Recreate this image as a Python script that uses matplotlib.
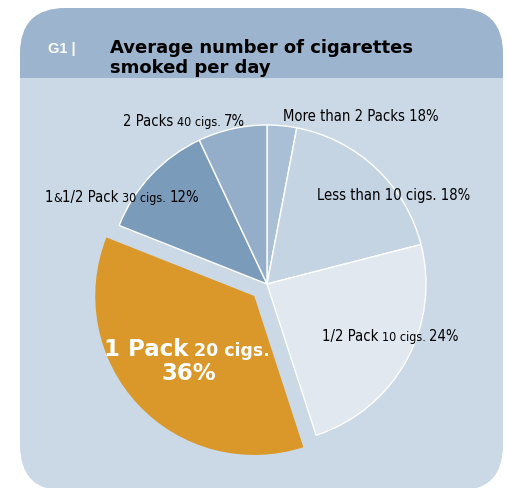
import matplotlib
matplotlib.use("Agg")
import matplotlib.pyplot as plt
from matplotlib.patches import FancyBboxPatch, Rectangle
from matplotlib import font_manager

# slices, clockwise from 12 o'clock
categories = ["More than 2 Packs", "Less than 10 cigs.", "1/2 Pack", "1 Pack", "1&1/2 Pack", "2 Packs"]
shares = [3, 18, 24, 36, 12, 7]
slice_colors = ["#a9bfd5", "#c5d4e3", "#e1e8f0", "#d99829", "#7a9bba", "#94aec9"]
label_text = [
    [("More than 2 Packs 18%", "L")],
    [("Less than 10 cigs. 18%", "L")],
    [("1/2 Pack", "L"), ("10 cigs.", "S"), ("24%", "L")],
    None,
    [("1", "L"), ("&", "S"), ("1/2 Pack", "L"), ("30 cigs.", "S"), ("12%", "L")],
    [("2 Packs", "L"), ("40 cigs.", "S"), ("7%", "L")],
]

W, H = 508, 489
HEADER = "#9cb4cd"
BODY = "#cbd9e6"
SIZES = {"L": 10.6, "S": 9.0}

# narrow face for the slice labels
NARROW = font_manager.FontProperties(family="DejaVu Sans", stretch="condensed")
narrow_file = font_manager.findfont(NARROW)

fig = plt.figure(figsize=(W / 100, H / 100), dpi=100)
ax = fig.add_axes([0, 0, 1, 1])

# rounded panel, darker band at the top
panel = FancyBboxPatch((20, 9), 483, 483, boxstyle="round,pad=0,rounding_size=46",
                       fc=BODY, ec="none", zorder=0)
ax.add_patch(panel)
band = FancyBboxPatch((20, 9), 483, 483, boxstyle="round,pad=0,rounding_size=46",
                      fc=HEADER, ec="none", zorder=0.5)
ax.add_patch(band)
band.set_clip_path(Rectangle((0, 0), W, 79, transform=ax.transData))

cx, cy, r = 267, 285, 159
explode = [0.11 * r if c == "1 Pack" else 0 for c in categories]
wedges, _ = ax.pie(shares, colors=slice_colors, startangle=-90, counterclock=True,
                   center=(cx, cy), radius=r, explode=explode,
                   wedgeprops=dict(edgecolor="white", linewidth=1.0))
for w, c in zip(wedges, categories):
    w.set_zorder(2)
    if c == "1 Pack":
        w.set_edgecolor("none")

ax.set_xlim(0, W)
ax.set_ylim(H, 0)
ax.set_aspect("equal")
ax.axis("off")


def chain(parts, x, y, color="black", fname=narrow_file, family=None, weight="normal",
          sizes=SIZES, gap=2.5):
    prev = None
    for s, k in parts:
        if family:
            fp = font_manager.FontProperties(family=family, weight=weight, size=sizes[k])
        else:
            fp = font_manager.FontProperties(fname=fname, size=sizes[k])
        if prev is None:
            prev = ax.text(x, y, s, fontproperties=fp, color=color,
                           ha="left", va="baseline", zorder=5)
        else:
            g = 0 if s == "&" or prev.get_text() == "&" else gap
            prev = ax.annotate(s, xy=(1, y), xycoords=(prev, "data"), xytext=(g, 0),
                               textcoords="offset points", fontproperties=fp, color=color,
                               ha="left", va="baseline", zorder=5)
    return prev


label_pos = [(283, 121), (317, 200), (322, 341), None, (45, 202), (123, 126)]
for parts, pos in zip(label_text, label_pos):
    if parts:
        chain(parts, *pos)

chain([("1 Pack", "L"), ("20 cigs.", "S")], 104, 356, color="white",
      family="DejaVu Sans", weight="bold", sizes={"L": 16.5, "S": 12.5}, gap=4)
ax.text(189, 380, "36%", fontsize=16.5, family="DejaVu Sans", weight="bold",
        color="white", ha="center", va="baseline", zorder=5)

# header
ax.text(48, 53, "G1 |", fontsize=10.5, family="Liberation Sans", weight="bold",
        color="white", ha="left", va="baseline", zorder=5)
ax.text(110, 53, "Average number of cigarettes", fontsize=13, family="DejaVu Sans",
        weight="bold", color="black", ha="left", va="baseline", zorder=5)
ax.text(110, 73, "smoked per day", fontsize=13, family="DejaVu Sans",
        weight="bold", color="black", ha="left", va="baseline", zorder=5)

fig.savefig("out.png", dpi=100, facecolor="white")
